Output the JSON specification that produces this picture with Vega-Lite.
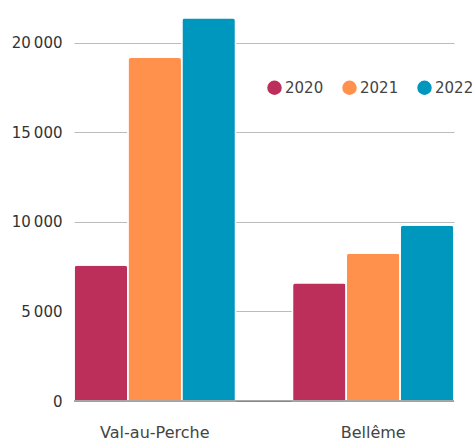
{
  "$schema": "https://vega.github.io/schema/vega-lite/v6.json",
  "width": 380,
  "height": 394,
  "autosize": {"type": "none"},
  "padding": {"left": 74, "top": 7, "right": 22, "bottom": 41},
  "background": "white",
  "config": {
    "font": "DejaVu Sans",
    "view": {"stroke": null}
  },
  "data": {
    "values": [
      {"commune": "Val-au-Perche", "annee": "2020", "valeur": 7600},
      {"commune": "Val-au-Perche", "annee": "2021", "valeur": 19200},
      {"commune": "Val-au-Perche", "annee": "2022", "valeur": 21400},
      {"commune": "Bellême", "annee": "2020", "valeur": 6600},
      {"commune": "Bellême", "annee": "2021", "valeur": 8270},
      {"commune": "Bellême", "annee": "2022", "valeur": 9830}
    ]
  },
  "layer": [
    {
      "mark": {"type": "bar", "cornerRadiusTopLeft": 3, "cornerRadiusTopRight": 3, "stroke": "white", "strokeWidth": 1.5},
      "encoding": {
        "x": {
          "field": "commune", "type": "nominal", "sort": ["Val-au-Perche", "Bellême"],
          "scale": {"paddingInner": 0.26, "paddingOuter": 0},
          "axis": {"title": null, "labelAngle": 0, "labelFontSize": 16, "labelColor": "#444", "labelPadding": 23, "ticks": false, "domain": false}
        },
        "xOffset": {"field": "annee", "type": "nominal", "scale": {"paddingInner": 0}},
        "y": {
          "field": "valeur", "type": "quantitative",
          "scale": {"domain": [0, 22000], "nice": false},
          "axis": {"title": null, "values": [0, 5000, 10000, 15000, 20000], "labelExpr": "replace(format(datum.value, ','), ',', '\u202f')", "labelFontSize": 15, "labelColor": "#333", "labelPadding": 12, "ticks": false, "domain": false, "gridColor": "#bbbbbb", "gridWidth": 1}
        },
        "color": {
          "field": "annee", "type": "nominal",
          "scale": {"domain": ["2020", "2021", "2022"], "range": ["#bc2f5b", "#ff914d", "#0097be"]},
          "legend": {"title": null, "orient": "none", "legendX": 193, "legendY": 73, "direction": "horizontal", "columns": 3, "symbolType": "circle", "symbolSize": 210, "symbolStrokeWidth": 0, "labelFontSize": 15, "labelColor": "#444", "columnPadding": 18, "labelOffset": 3}
        }
      }
    },
    {
      "data": {"values": [{"base": 0}]},
      "mark": {"type": "rule", "color": "#555", "strokeWidth": 1},
      "encoding": {"y": {"field": "base", "type": "quantitative"}}
    }
  ]
}
